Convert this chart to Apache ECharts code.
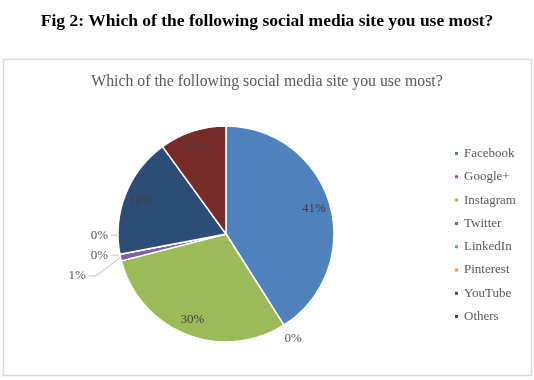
<!DOCTYPE html>
<html>
<head>
<meta charset="utf-8">
<script src="https://cdn.jsdelivr.net/npm/echarts@6/dist/echarts.min.js"></script>
<style>html,body{margin:0;padding:0;background:#fff}#c{width:534px;height:380px}</style>
</head>
<body>
<div id="c"></div>
<script>
const figTitle = "Fig 2: Which of the following social media site you use most?";
const chartTitle = "Which of the following social media site you use most?";
const categories = ["Facebook", "Google+", "Instagram", "Twitter", "LinkedIn", "Pinterest", "YouTube", "Others"];
const values = [41, 0, 30, 1, 0, 0, 18, 10];
const colors = ["#4F81BD", "#C0504D", "#9BBB59", "#8064A2", "#4BACC6", "#F79646", "#2C4D75", "#772C2A"];

const FONT = "Liberation Serif";
const center = [226, 234];
const R = 108;
// vertical shifts for crowded outside labels (Excel-style stacking)
const labelShift = { "Pinterest": -20, "LinkedIn": 0, "Twitter": 17 };

const mainData = categories.map((n, i) => {
  const big = values[i] >= 5;
  const d = {
    name: n, value: values[i],
    itemStyle: { color: colors[i] },
    label: { show: !big },
    labelLine: { show: !big }
  };
  if (n === "Google+") {
    d.labelLine = { show: false, length: 16, length2: 0 };
    d.label = { show: true, distanceToLabelLine: -8 };
  }
  if (n === "Twitter") {
    d.labelLine = { show: true, length: 6, length2: 26 };
  }
  return d;
});
const overlayData = categories.map((n, i) => ({
  name: n, value: values[i],
  label: { show: values[i] >= 5 }
}));

const chart = echarts.init(document.getElementById('c'), null, { renderer: 'canvas' });
chart.setOption({
  animation: false,
  backgroundColor: '#fff',
  color: colors,
  title: [
    { text: figTitle, left: 'center', top: 7,
      textStyle: { fontFamily: FONT, fontSize: 17.5, fontWeight: 'bold', color: '#000' } },
    { text: chartTitle, left: 'center', top: 69,
      textStyle: { fontFamily: FONT, fontSize: 15.8, fontWeight: 'normal', color: '#595959' } }
  ],
  graphic: [
    { type: 'rect', shape: { x: 3.5, y: 59.5, width: 528, height: 316 },
      style: { fill: 'none', stroke: '#D9D9D9', lineWidth: 1.5 }, z: -1 }
  ],
  legend: {
    orient: 'vertical', left: 448, top: 142,
    itemWidth: 5, itemHeight: 5, itemGap: 10.3, icon: 'rect',
    data: categories,
    textStyle: { fontFamily: FONT, fontSize: 13, color: '#595959' }
  },
  series: [
    {
      type: 'pie', center: center, radius: [0, R],
      startAngle: 90, clockwise: true,
      avoidLabelOverlap: false,
      itemStyle: { borderColor: '#fff', borderWidth: 1.5 },
      label: { position: 'outside', formatter: '{c}%', fontFamily: FONT, fontSize: 13, color: '#595959', distanceToLabelLine: 3 },
      labelLine: { length: 5, length2: 4, lineStyle: { color: '#BFBFBF', width: 1 } },
      labelLayout: function (p) {
        const s = labelShift[categories[p.dataIndex]];
        if (s === undefined || !p.labelLinePoints) return {};
        const pts = p.labelLinePoints;
        const cy = p.labelRect.y + p.labelRect.height / 2 + s;
        const end = pts[pts.length - 1];
        return { dy: s, labelLinePoints: [pts[0], [end[0] + 7, cy], [end[0], cy]] };
      },
      emphasis: { disabled: true },
      data: mainData
    },
    {
      type: 'pie', center: center, radius: [R * 0.64, R],
      startAngle: 90, clockwise: true, silent: true,
      itemStyle: { color: 'rgba(0,0,0,0)', borderWidth: 0 },
      label: { position: 'inside', formatter: '{c}%', fontFamily: FONT, fontSize: 13, color: '#404040' },
      labelLine: { show: false },
      emphasis: { disabled: true },
      tooltip: { show: false },
      data: overlayData
    }
  ]
});
</script>
</body>
</html>
